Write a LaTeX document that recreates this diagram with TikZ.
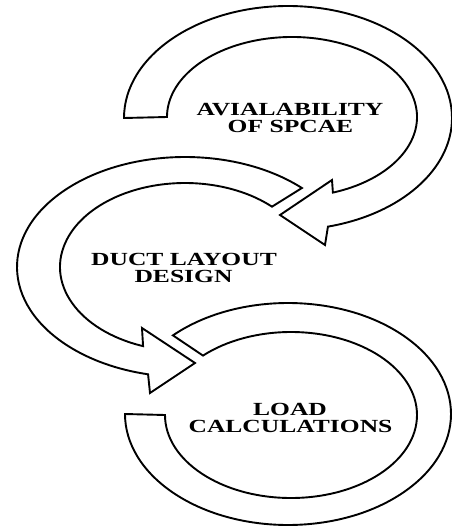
\documentclass[tikz,border=0pt]{standalone}
\usepackage{fontspec}
\usetikzlibrary{calc}
\newfontfamily\lblfont{Liberation Serif}[FakeStretch=1.38]
\begin{document}
\begin{tikzpicture}[x=1pt,y=1pt,yscale=-1,
  band/.style={draw=black,line width=1.9pt,fill=white,line join=miter},
  lbl/.style={anchor=base,inner sep=0pt,font=\lblfont\bfseries\fontsize{18.5}{17}\selectfont}]
\useasboundingbox (0,0) rectangle (452,527);
% centres
\coordinate (cAo) at (288,118);
\coordinate (cAi) at (292,117);
\coordinate (cB) at (185,267);
\coordinate (cCo) at (288,414);
\coordinate (cCi) at (291,415);
% arrowhead points
\coordinate (Alb) at (325,245);
\coordinate (Atip) at (280,215);
\coordinate (Aub) at (332,180);
\coordinate (Blb) at (150,393);
\coordinate (Btip) at (195,363);
\coordinate (Bub) at (142,328);
% top arrow
\draw[band] ($(cAo)+(180:164 and 112)$)
  arc[start angle=180,end angle=435.9,x radius=164,y radius=112]
  -- (Alb) -- (Atip) -- (Aub)
  -- ($(cAi)+(430.9:125 and 80)$)
  arc[start angle=430.9,end angle=180,x radius=125,y radius=80]
  -- cycle;
% middle arrow
\draw[band] ($(cB)+(314.1:168 and 110)$)
  arc[start angle=314.1,end angle=102.7,x radius=168,y radius=110]
  -- (Blb) -- (Btip) -- (Bub)
  -- ($(cB)+(109.6:125 and 84)$)
  arc[start angle=109.6,end angle=314.1,x radius=125,y radius=84]
  -- cycle;
% bottom arrow
\draw[band] ($(cCo)+(225.1:163 and 111)$)
  arc[start angle=225.1,end angle=540,x radius=163,y radius=111]
  -- ($(cCi)+(540:126 and 83)$)
  arc[start angle=540,end angle=225.7,x radius=126,y radius=83]
  -- cycle;
% labels
\node[lbl] (avail1) at (290,115) {AVIALABILITY};
\node[lbl] (avail2) at (290.5,132) {OF SPCAE};
\node[lbl] (duct1) at (184,265) {DUCT LAYOUT};
\node[lbl] (duct2) at (183.5,282) {DESIGN};
\node[lbl] (load1) at (290,415) {LOAD};
\node[lbl] (load2) at (290.5,432) {CALCULATIONS};
\end{tikzpicture}
\end{document}
